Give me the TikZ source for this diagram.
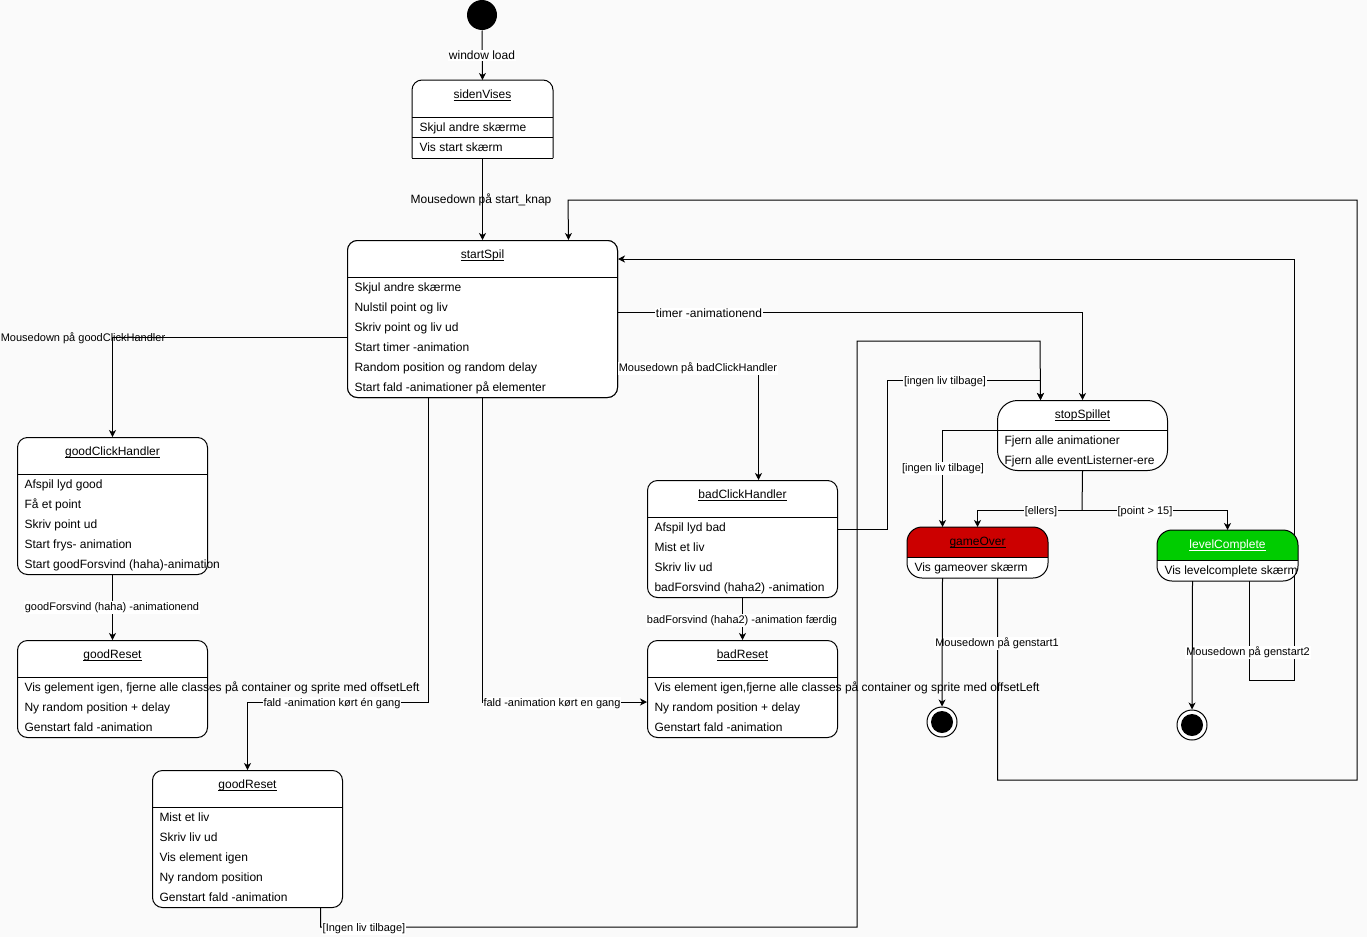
\documentclass[tikz,border=0pt]{standalone}
\usepackage{fontspec}
\setmainfont{Liberation Sans}
\usetikzlibrary{arrows.meta}
\definecolor{pagebg}{RGB}{250,250,250}
\definecolor{overred}{RGB}{204,0,0}
\definecolor{donegreen}{RGB}{0,204,0}

% underline set a little below the baseline, through the descenders
\newcommand\titleul[1]{\setbox0\hbox{#1}\rlap{\rule[-2.2pt]{\wd0}{0.9pt}}\box0}
% action rows, 20pt apart below the separator (baseline 4.5pt under the row centre)
\newcommand\itemrows[3]{%
  \foreach \txt [count=\ri] in {#3}{%
    \node[itemtxt] (#1-r\ri) at ([xshift=7pt,yshift={-(#2+14.5+20*(\ri-1))*1pt}]#1.north west) {\txt};}}
\newcommand\sepline[2]{\draw ([yshift=-#2pt]#1.north west) -- ([yshift=-#2pt]#1.north east);}
\newcommand\statetitle[3]{\node[titletxt] (#1-t) at ([yshift=-#2pt]#1.north) {\titleul{#3}};}

\begin{document}
\begin{tikzpicture}[x=1pt,y=-1pt,line width=1pt,
  arr/.style={-{Stealth[length=7pt,width=7pt,inset=2pt]}},
  box/.style={draw,fill=white,rounded corners=10pt,anchor=north west,inner sep=0pt},
  itemtxt/.style={anchor=base west,inner sep=0pt,font=\fontsize{12}{14}\selectfont},
  titletxt/.style={anchor=base,inner sep=0pt,font=\fontsize{12}{14}\selectfont},
  lbl/.style={inner sep=1pt,fill=white,yshift=-1.5pt,font=\fontsize{11}{13}\selectfont},
  lblbig/.style={lbl,font=\fontsize{12}{14}\selectfont},
  lblclear/.style={inner sep=1pt,yshift=-1.5pt,font=\fontsize{11}{13}\selectfont}]

\fill[pagebg] (0,0) rectangle (1367,937);
\useasboundingbox (0,0) rectangle (1367,937);

% ---- node placement (boxes are drawn later, on top of the connectors)
\node[circle,fill=black,minimum size=30pt,inner sep=0pt] (init) at (482,15) {};
\node[anchor=north west,inner sep=0pt,minimum width=140pt,minimum height=77pt] (sidenVises) at (412,80) {};
\node[box,minimum width=270pt,minimum height=157pt] (startSpil) at (347,240) {};
\node[box,minimum width=190pt,minimum height=137pt] (goodClick) at (17,437) {};
\node[box,minimum width=190pt,minimum height=97pt] (goodReset) at (17,640) {};
\node[box,minimum width=190pt,minimum height=137pt] (lifeReset) at (152,770) {};
\node[box,minimum width=190pt,minimum height=117pt] (badClick) at (647,480) {};
\node[box,minimum width=190pt,minimum height=97pt] (badReset) at (647,640) {};
\node[box,rounded corners=20pt,minimum width=170pt,minimum height=70pt] (stopSpillet) at (997,400) {};
\node[anchor=north west,inner sep=0pt,minimum width=140pt,minimum height=50pt] (gameOver) at (907,527) {};
\node[anchor=north west,inner sep=0pt,minimum width=140pt,minimum height=50pt] (levelComplete) at (1157,530) {};
\node[circle,draw,fill=white,minimum size=30pt,inner sep=0pt] (end1) at (942,722) {};
\node[circle,draw,fill=white,minimum size=30pt,inner sep=0pt] (end2) at (1192,725) {};
\fill (end1.center) circle (11pt);
\fill (end2.center) circle (11pt);
\coordinate (split) at (1082,510);

% ---- connectors
\draw[arr] (init.south) -- (sidenVises.north);
\draw[arr] (sidenVises.south) -- (startSpil.north);
\draw[arr] (startSpil.east |- 0,312) -| (stopSpillet.north);
\draw[arr] (startSpil.west |- 0,337) -| (goodClick.north);
\draw[arr] (startSpil.east |- 0,367) -| ([xshift=16pt]badClick.north);
\draw[arr] (goodClick.south) -- (goodReset.north);
\draw[arr] (badClick.south) -- (badReset.north);
\draw[arr] ([xshift=-54pt]startSpil.south) |- (lifeReset.north |- 0,702) -- (lifeReset.north);
\draw[arr] (startSpil.south) |- (badReset.west |- 0,702);
\draw[arr] ([xshift=73pt]lifeReset.south) |- (857,927) |- (1040,341) -- ([xshift=-42pt]stopSpillet.north);
\draw[arr] (badClick.east |- 0,529) -| (887,380) -| ([xshift=-42pt]stopSpillet.north);
\draw[arr] (stopSpillet.west |- 0,430) -| ([xshift=-35pt]gameOver.north);
\draw (stopSpillet.south) -- (split);
\draw[arr] (split) -| (gameOver.north);
\draw[arr] (split) -| (levelComplete.north);
\draw[arr] ([xshift=20pt]gameOver.south) |- (1357,780) |- (568,200) -- ([xshift=86pt]startSpil.north);
\draw[arr] ([xshift=22pt]levelComplete.south) |- (1294,680) |- (startSpil.east |- 0,259);

% ---- sidenVises: rounded top, square bottom
\fill[white] (sidenVises.south west) rectangle (sidenVises.north east);
\draw[rounded corners=10pt] (sidenVises.south west) -- (sidenVises.north west) -- (sidenVises.north east) -- (sidenVises.south east);
\draw (sidenVises.south west) -- (sidenVises.south east);
\statetitle{sidenVises}{18.5}{sidenVises}
\sepline{sidenVises}{37}
\sepline{sidenVises}{57}
\itemrows{sidenVises}{37}{Skjul andre skærme,Vis start skærm}

% ---- startSpil
\node[box,minimum width=270pt,minimum height=157pt] at (347,240) {};
\statetitle{startSpil}{18.5}{startSpil}
\sepline{startSpil}{37}
\itemrows{startSpil}{37}{Skjul andre skærme,Nulstil point og liv,Skriv point og liv ud,Start timer -animation,Random position og random delay,Start fald -animationer på elementer}

% ---- goodClickHandler
\statetitle{goodClick}{18.5}{goodClickHandler}
\sepline{goodClick}{37}
\itemrows{goodClick}{37}{Afspil lyd good,Få et point,Skriv point ud,Start frys- animation,Start goodForsvind (haha)-animation}

% ---- goodReset
\statetitle{goodReset}{18.5}{goodReset}
\sepline{goodReset}{37}
\itemrows{goodReset}{37}{{Vis gelement igen, fjerne alle classes på container og sprite med offsetLeft},Ny random position + delay,Genstart fald -animation}

% ---- goodReset (lives)
\statetitle{lifeReset}{18.5}{goodReset}
\sepline{lifeReset}{37}
\itemrows{lifeReset}{37}{Mist et liv,Skriv liv ud,Vis element igen,Ny random position,Genstart fald -animation}

% ---- badClickHandler
\statetitle{badClick}{18.5}{badClickHandler}
\sepline{badClick}{37}
\itemrows{badClick}{37}{Afspil lyd bad,Mist et liv,Skriv liv ud,badForsvind (haha2) -animation}

% ---- badReset
\statetitle{badReset}{18.5}{badReset}
\sepline{badReset}{37}
\itemrows{badReset}{37}{{Vis element igen,fjerne alle classes på container og sprite med offsetLeft},Ny random position + delay,Genstart fald -animation}

% ---- stopSpillet
\statetitle{stopSpillet}{18.5}{stopSpillet}
\sepline{stopSpillet}{30}
\itemrows{stopSpillet}{30}{Fjern alle animationer,Fjern alle eventListerner-ere}

% ---- gameOver
\fill[white,rounded corners=15pt] (gameOver.south west) rectangle (gameOver.north east);
\fill[overred,rounded corners=15pt] ([yshift=-30pt]gameOver.north west) -- (gameOver.north west) -- (gameOver.north east) -- ([yshift=-30pt]gameOver.north east);
\draw[rounded corners=15pt] (gameOver.south west) rectangle (gameOver.north east);
\sepline{gameOver}{30}
\statetitle{gameOver}{18.5}{gameOver}
\itemrows{gameOver}{30}{Vis gameover skærm}

% ---- levelComplete
\fill[white,rounded corners=15pt] (levelComplete.south west) rectangle (levelComplete.north east);
\fill[donegreen,rounded corners=15pt] ([yshift=-30pt]levelComplete.north west) -- (levelComplete.north west) -- (levelComplete.north east) -- ([yshift=-30pt]levelComplete.north east);
\draw[rounded corners=15pt] (levelComplete.south west) rectangle (levelComplete.north east);
\sepline{levelComplete}{30}
\node[titletxt,text=white] (levelComplete-t) at ([yshift=-18.5pt]levelComplete.north) {\titleul{levelComplete}};
\itemrows{levelComplete}{30}{Vis levelcomplete skærm}

% ---- connector labels
\node[lblbig] (l-load) at (482,54) {window load};
\node[lblclear,font=\fontsize{12}{14}\selectfont] (l-start) at (481,198) {Mousedown på start\_knap};
\node[lblbig] (l-timer) at (709,312) {timer -animationend};
\node[lblclear] (l-good) at (83,337) {Mousedown på goodClickHandler};
\node[lbl] (l-bad) at (698,367) {Mousedown på badClickHandler};
\node[lbl] (l-nolife1) at (945,380) {[ingen liv tilbage]};
\node[lbl] (l-nolife2) at (943,467) {[ingen liv tilbage]};
\node[lbl] (l-else) at (1041,510) {[ellers]};
\node[lbl] (l-points) at (1145,510) {[point > 15]};
\node[lbl] (l-goodend) at (112,606) {goodForsvind (haha) -animationend};
\node[lbl] (l-badend) at (742,619) {badForsvind (haha2) -animation færdig};
\node[lbl] (l-fallgood) at (332,702) {fald -animation kørt én gang};
\node[lbl] (l-fallbad) at (552,702) {fald -animation kørt en gang};
\node[lbl] (l-nolife3) at (364,927) {[Ingen liv tilbage]};
\node[lbl] (l-restart1) at (997,642) {Mousedown på genstart1};
\node[lbl] (l-restart2) at (1248,651) {Mousedown på genstart2};

% ---- final transitions
\draw[arr] ([xshift=-35pt]gameOver.south) -- (end1.north);
\draw[arr] ([xshift=-35pt]levelComplete.south) -- (end2.north);
\end{tikzpicture}
\end{document}
